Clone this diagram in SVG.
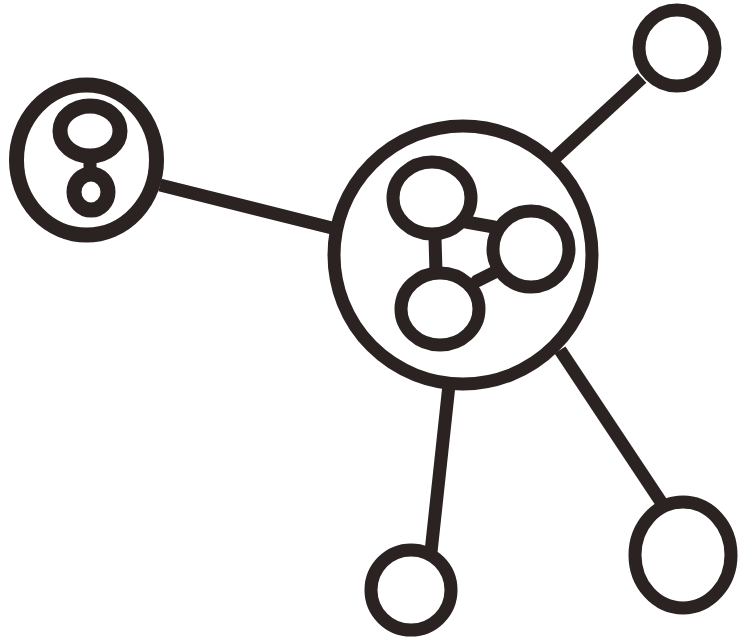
<svg xmlns="http://www.w3.org/2000/svg" width="742" height="639" viewBox="0 0 742 639">
<style>
.s{fill:none;stroke:#2b2222;stroke-width:13;stroke-linecap:round;stroke-linejoin:round}
.t{fill:none;stroke:#2b2222;stroke-width:15}
.c{fill:none;stroke:#2b2222;stroke-width:13;stroke-linecap:butt}
</style>
<rect width="742" height="639" fill="#ffffff"/>
<g id="connectors">
<line class="c" x1="160" y1="185" x2="340" y2="230"/>
<line class="c" x1="555" y1="158" x2="642" y2="78"/>
<line class="c" x1="449" y1="385" x2="431" y2="552"/>
<line class="c" x1="560" y1="350" x2="663" y2="505"/>
</g>
<g id="node-left">
<ellipse class="t" cx="86.5" cy="160" rx="70" ry="75"/>
<ellipse class="t" cx="90" cy="131" rx="30" ry="25"/>
<ellipse class="t" cx="91" cy="192" rx="17" ry="18"/>
<line class="s" x1="90" y1="158" x2="90" y2="172" stroke-width="14"/>
</g>
<g id="node-center">
<circle class="s" cx="463" cy="255" r="129"/>
<ellipse class="s" cx="432" cy="198" rx="39" ry="36"/>
<ellipse class="s" cx="531" cy="249" rx="38" ry="38"/>
<ellipse class="s" cx="440" cy="309" rx="39" ry="36"/>
<line class="s" x1="435" y1="238" x2="436" y2="272"/>
<line class="s" x1="466" y1="222" x2="494" y2="227"/>
<line class="s" x1="477" y1="281" x2="497" y2="271"/>
</g>
<g id="node-topright">
<circle class="s" cx="677" cy="48" r="38"/>
</g>
<g id="node-bottom">
<circle class="s" cx="411" cy="590" r="40"/>
</g>
<g id="node-bottomright">
<ellipse class="s" cx="683" cy="555" rx="48" ry="53"/>
</g>
</svg>
